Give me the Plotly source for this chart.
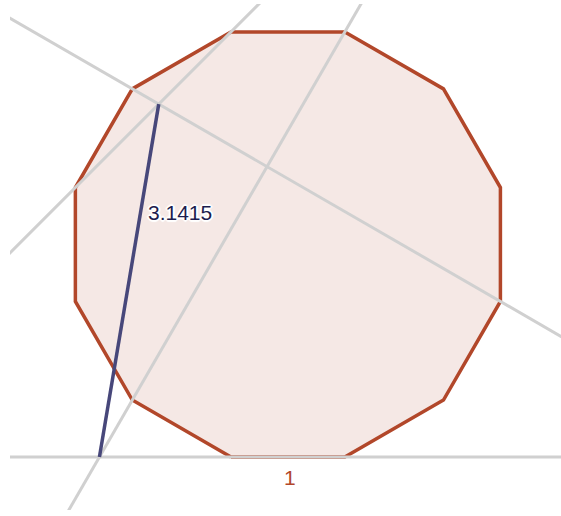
import plotly.graph_objects as go

# Regular dodecagon with side 1 (bottom edge from (0,0) to (1,0))
poly_x = [0.0, 1.0, 1.866, 2.366, 2.366, 1.866, 1.0, 0.0, -0.866, -1.366, -1.366, -0.866]
poly_y = [0.0, 0.0, 0.5, 1.366, 2.366, 3.232, 3.732, 3.732, 3.232, 2.366, 1.366, 0.5]

# Construction lines, each given by two points (extended across the view)
line_names = ["base", "line60", "line-30", "line45"]
line_p1 = [(0.0, 0.0), (-0.866, 0.5), (-0.866, 3.232), (-1.366, 2.366)]
line_p2 = [(1.0, 0.0), (1.0, 3.732), (2.366, 1.366), (0.0, 3.732)]

# Approximation segment
seg_x = [-1.1547, -0.634]
seg_y = [0.0, 3.098]
seg_label = "3.1415"
side_label = "1"

x_range = [-1.94, 2.898]
y_range = [-0.465, 3.977]

BROWN = "#b2472a"
FILL = "#f5e8e5"
GRAY = "#d0d0d0"
NAVY = "#47477a"

fig = go.Figure()

fig.add_trace(go.Scatter(
    x=poly_x + [poly_x[0]], y=poly_y + [poly_y[0]],
    mode="lines", fill="toself", fillcolor=FILL,
    line=dict(color=BROWN, width=3.5), hoverinfo="skip"))

for (x1, y1), (x2, y2) in zip(line_p1, line_p2):
    t0, t1 = -20, 20
    xs = [x1 + t0 * (x2 - x1), x1 + t1 * (x2 - x1)]
    ys = [y1 + t0 * (y2 - y1), y1 + t1 * (y2 - y1)]
    fig.add_trace(go.Scatter(x=xs, y=ys, mode="lines",
                             line=dict(color=GRAY, width=3), hoverinfo="skip"))

fig.add_trace(go.Scatter(x=seg_x, y=seg_y, mode="lines",
                         line=dict(color=NAVY, width=3.5), hoverinfo="skip"))

halo = ("2px 0 1px white, -2px 0 1px white, 0 2px 1px white, 0 -2px 1px white, "
        "1px 1px 1px white, -1px -1px 1px white, 1px -1px 1px white, -1px 1px 1px white")
fig.add_annotation(x=-0.448, y=2.151, text=seg_label, showarrow=False,
                   font=dict(family="Liberation Sans, Arial", size=21, color="#1c1c4e",
                             shadow=halo))
fig.add_annotation(x=0.52, y=-0.176, text=side_label, showarrow=False,
                   font=dict(family="Liberation Sans, Arial", size=21, color=BROWN))

fig.update_layout(
    width=561, height=516,
    margin=dict(l=10, r=0, t=4, b=6),
    paper_bgcolor="white", plot_bgcolor="white",
    showlegend=False,
    xaxis=dict(range=x_range, visible=False, fixedrange=True),
    yaxis=dict(range=y_range, visible=False, fixedrange=True),
)

fig.write_html("out.html", config={"displayModeBar": False},
               post_script="document.body.style.margin='0';document.body.style.overflow='hidden';")
